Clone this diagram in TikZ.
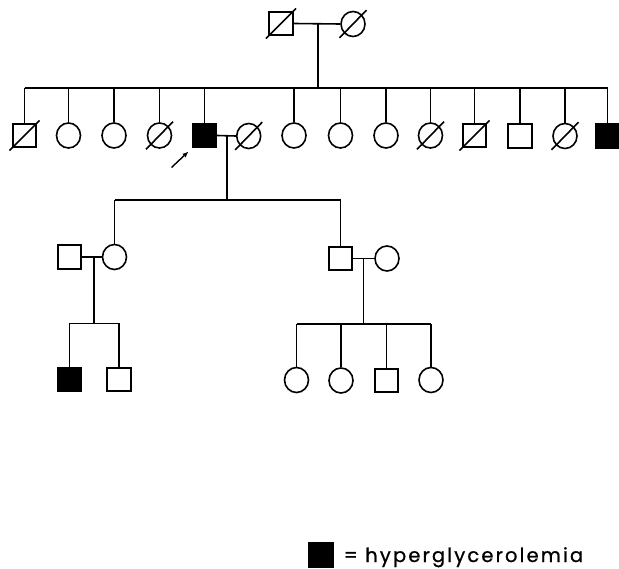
\documentclass[tikz,border=0pt]{standalone}
\usepackage{fontspec}
\newfontfamily\legendfont[LetterSpace=11,FakeBold=0.8]{Poppins}
\usetikzlibrary{shapes.geometric,arrows.meta}
\newcommand\slashnode[2]{\draw ([shift={(-#2,-#2)}]#1.south west) -- ([shift={(#2,#2)}]#1.north east);}
\begin{document}
\begin{tikzpicture}[x=1pt,y=-1pt,line width=1.6pt,
  male/.style={draw, rectangle, minimum width=23.5pt, minimum height=23.5pt, inner sep=0pt},
  female/.style={draw, ellipse, minimum width=24pt, minimum height=25pt, inner sep=0pt},
  aff/.style={fill=black},
  keyfont/.style={font=\legendfont\fontsize{19.5}{19.5}\selectfont}]
\useasboundingbox (0,0) rectangle (619,569);

% Generation I
\node[male] (I1) at (281,23.5) {};
\node[female] (I2) at (353,24) {};
\draw (I1.east) -- (I2.west);
\coordinate (m1) at (318,23.5);
\coordinate (s1) at (318,88);
\draw (m1) -- (s1);
\slashnode{I1}{2.5pt}
\slashnode{I2}{4.5pt}

% Generation II
\node[male]        (II1)  at (24.5,135.5) {};
\node[female]      (II2)  at (68.5,135.5) {};
\node[female]      (II3)  at (114,135.5) {};
\node[female]      (II4)  at (159.5,135.5) {};
\node[male,aff]    (II5)  at (204.5,135.5) {};
\node[female]      (II6)  at (248.7,136) {};
\node[female]      (II7)  at (294,135.5) {};
\node[female]      (II8)  at (340.5,135.5) {};
\node[female]      (II9)  at (386,135.5) {};
\node[female]      (II10) at (430.5,135.5) {};
\node[male]        (II11) at (474.5,135.5) {};
\node[male]        (II12) at (520,136) {};
\node[female]      (II13) at (565,136) {};
\node[male,aff]    (II14) at (607.5,136) {};
\slashnode{II1}{2.5pt}
\slashnode{II4}{4.5pt}
\slashnode{II6}{4.5pt}
\slashnode{II10}{4.5pt}
\slashnode{II11}{2.5pt}
\slashnode{II13}{4.5pt}
\draw (II1 |- s1) -- (II14 |- s1);
\foreach \n in {II1,II2,II3,II4,II5,II7,II8,II9,II10,II11,II12,II13,II14}
  \draw (\n.north) -- (\n |- s1);
\draw (II5.east) -- (II6.west);
\coordinate (m2) at (226.7,135.7);
\coordinate (s2) at (226.7,200);
\draw (m2) -- (s2);

% proband arrow
\coordinate (a0) at (171.5,167.5);
\coordinate (a1) at (188.5,151.5);
\draw[line width=1.4pt,-{Latex[length=6pt,width=5pt]}] (a0) -- (a1);

% Generation III
\node[male]   (III1) at (69.5,257) {};
\node[female] (III2) at (114.5,257) {};
\node[male]   (III3) at (340.5,258.5) {};
\node[female] (III4) at (387,258.5) {};
\draw (III2 |- s2) -- (III3 |- s2);
\draw (III2.north) -- (III2 |- s2);
\draw (III3.north) -- (III3 |- s2);
\draw (III1.east) -- (III2.west);
\draw (III3.east) -- (III4.west);
\coordinate (m3) at (94,257);
\coordinate (s3) at (94,323.5);
\draw (m3) -- (s3);
\coordinate (m4) at (363.4,258.5);
\coordinate (s4) at (363.4,324);
\draw (m4) -- (s4);

% Generation IV
\node[male,aff] (IV1) at (69.5,379.5) {};
\node[male]     (IV2) at (119,379.5) {};
\node[female]   (IV3) at (296.5,380) {};
\node[female]   (IV4) at (341,380.5) {};
\node[male]     (IV5) at (386.5,380.5) {};
\node[female]   (IV6) at (431,380) {};
\draw (IV1 |- s3) -- (IV2 |- s3);
\foreach \n in {IV1,IV2} \draw (\n.north) -- (\n |- s3);
\draw (IV3 |- s4) -- (IV6 |- s4);
\foreach \n in {IV3,IV4,IV5,IV6} \draw (\n.north) -- (\n |- s4);

% Legend
\node[male,aff] (key) at (321,555) {};
\node[keyfont, anchor=base west, inner sep=0pt] (keytext) at (343,562) {= hyperglycerolemia};
\end{tikzpicture}
\end{document}
